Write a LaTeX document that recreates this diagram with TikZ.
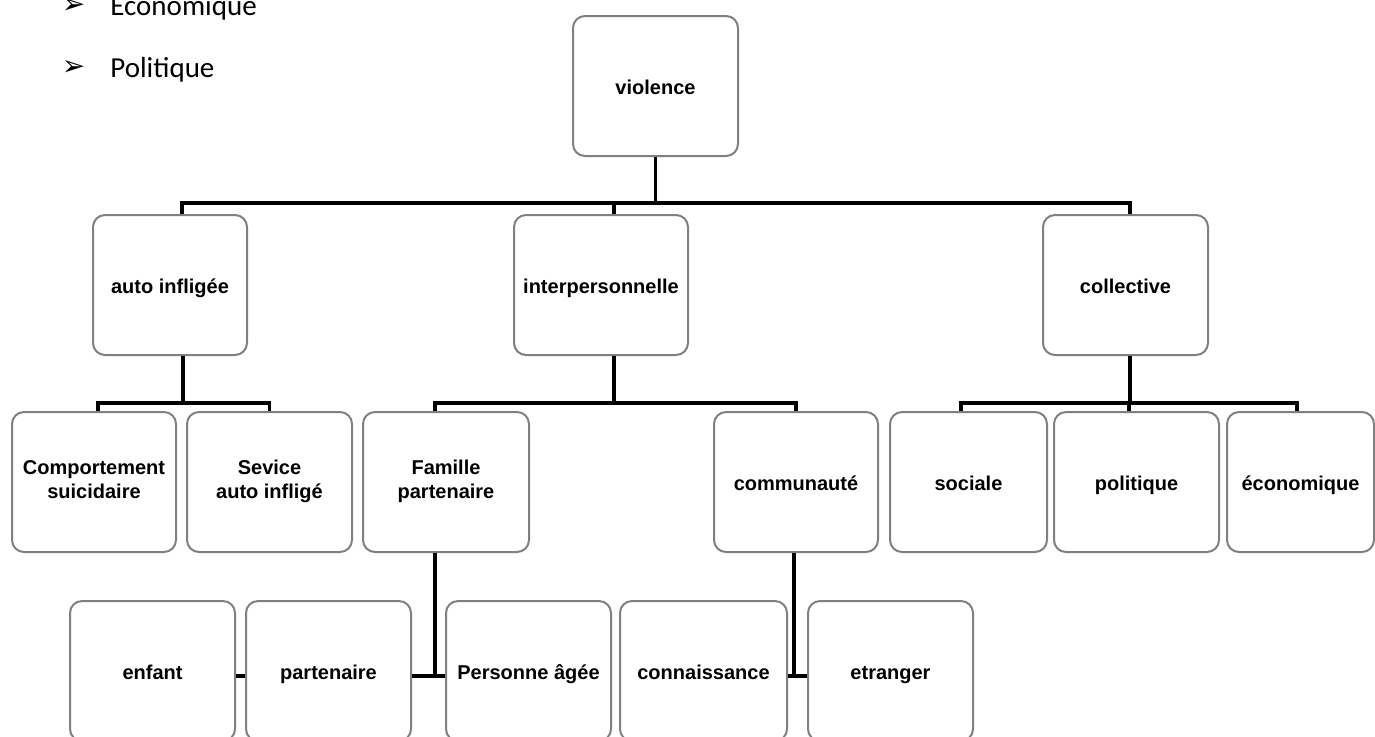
\documentclass[tikz,border=0pt]{standalone}
\usepackage{fontspec}
\setmainfont{Liberation Sans}
\newfontfamily\listfont{Carlito}
\newfontfamily\symfont{DejaVu Sans}
\usetikzlibrary{positioning}

\newcommand{\boxstrut}{\rule[-2.5pt]{0pt}{13pt}}

\tikzset{
	box/.style={draw=gray, line width=1pt, rounded corners=6pt, fill=white,
		minimum width=82.5pt, minimum height=70pt, inner sep=0pt, align=center,
		font=\fontsize{10}{12}\selectfont\bfseries,
		execute at begin node=\boxstrut, execute at end node=\boxstrut},
	link/.style={line width=1.6pt, black},
	item/.style={inner sep=0pt, anchor=base west, font=\listfont\fontsize{14.5}{17}\selectfont},
	puce/.style={inner sep=0pt, font=\symfont\fontsize{14}{16}\selectfont}
}

\begin{document}
\begin{tikzpicture}[x=0.5pt,y=-0.5pt]
	\useasboundingbox (0,0) rectangle (1375,736);

	\node[puce]                         (p1) at (73.5,6)  {➢};
	\node[puce]                         (p2) at (73.5,68) {➢};
	\node[item]                         (l1) at (110,15)  {Économique};
	\node[item]                         (l2) at (110,77)  {Politique};

	\node[box]                          (violence) at (655.5,86) {violence};

	\node[box,minimum width=77pt]       (auto)  at (170,285)    {auto infligée};
	\node[box,minimum width=87pt]       (inter) at (601,285)    {interpersonnelle};
	\node[box]                          (coll)  at (1125.5,285) {collective};

	\node[box,minimum width=82pt]       (comp) at (94,482)     {Comportement\\suicidaire};
	\node[box]                          (sev)  at (269.5,482)  {Sevice\\auto infligé};
	\node[box,minimum width=83pt]       (fam)  at (446,482)    {Famille\\partenaire};
	\node[box,minimum width=82pt]       (comm) at (796,482)    {communauté};
	\node[box,minimum width=78.5pt]     (soc)  at (968.5,482)  {sociale};
	\node[box]                          (pol)  at (1136.5,482) {politique};
	\node[box,minimum width=73.5pt]     (eco)  at (1300.5,482) {économique};

	\node[box]                          (enf)  at (152.5,671) {enfant};
	\node[box]                          (part) at (328.5,671) {partenaire};
	\node[box]                          (pers) at (528.5,671) {Personne âgée};
	\node[box,minimum width=83.5pt]     (conn) at (703.5,671) {connaissance};
	\node[box]                          (etr)  at (890.5,671) {etranger};

	\draw[link] (violence.south) -- ++(0,46) -| ([xshift=6pt]auto.north);
	\draw[link] (violence.south) -- ++(0,46) -| ([xshift=6.5pt]inter.north);
	\draw[link] (violence.south) -- ++(0,46) -| ([xshift=2.25pt]coll.north);

	\draw[link] ([xshift=6.5pt]auto.south) -- ++(0,47) -| ([xshift=2pt]comp.north);
	\draw[link] ([xshift=6.5pt]auto.south) -- ++(0,47) -| (sev.north);

	\draw[link] ([xshift=6.5pt]inter.south) -- ++(0,47) -| ([xshift=-5.5pt]fam.north);
	\draw[link] ([xshift=6.5pt]inter.south) -- ++(0,47) -| (comm.north);

	\draw[link] ([xshift=2.25pt]coll.south) -- ++(0,47) -| ([xshift=-3.75pt]soc.north);
	\draw[link] ([xshift=2.25pt]coll.south) -- ++(0,47) -| ([xshift=-3.75pt]pol.north);
	\draw[link] ([xshift=2.25pt]coll.south) -- ++(0,47) -| ([xshift=-1.75pt]eco.north);

	\draw[link] ([xshift=-5.5pt]fam.south) |- ([yshift=-2.5pt]pers.west);
	\draw[link] ([yshift=-2.5pt]part.east) -- ([yshift=-2.5pt]pers.west);
	\draw[link] ([yshift=-2.5pt]enf.east) -- ([yshift=-2.5pt]part.west);

	\draw[link] ([xshift=-1pt]comm.south) |- ([yshift=-2.5pt]etr.west);
	\draw[link] ([yshift=-2.5pt]conn.east) -- ([yshift=-2.5pt]etr.west);
\end{tikzpicture}
\end{document}
